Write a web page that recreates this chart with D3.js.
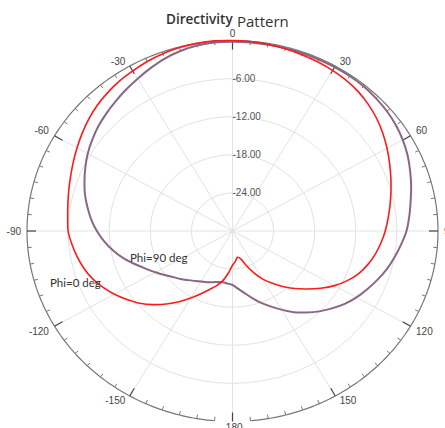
<!DOCTYPE html>
<html><head><meta charset="utf-8">
<script src="https://cdn.jsdelivr.net/npm/d3@7"></script>
<style>
html,body{margin:0;padding:0;background:#fff;}
svg{display:block;}
</style>
</head><body>
<svg id="chart" width="445" height="428"></svg>
<script>
// ---- data (angle in degrees, value in dB) ----
const angles = [-180,-175,-170,-165,-160,-155,-150,-145,-140,-135,-130,-125,-120,-115,-110,-105,-100,-95,
  -90,-85,-80,-75,-70,-65,-60,-55,-50,-45,-40,-35,-30,-25,-20,-15,-10,-5,
  0,5,10,15,20,25,30,35,40,45,50,55,60,65,70,75,80,85,
  90,95,100,105,110,115,120,125,130,135,140,145,150,155,160,165,170,175];
const phi0 = [-24.6,-23.4,-22.1,-21.1,-20.2,-19.1,-17.8,-16.4,-15.0,-13.6,-12.3,-11.2,-10.1,-9.1,-8.2,-7.5,-6.95,-6.45,
  -6.0,-5.85,-5.6,-5.25,-4.85,-4.35,-3.8,-3.2,-2.6,-2.05,-1.6,-1.2,-0.9,-0.55,-0.3,-0.1,0.0,0.05,
  0.0,-0.05,-0.15,-0.3,-0.45,-0.6,-0.8,-1.05,-1.4,-1.9,-2.5,-3.2,-3.95,-4.7,-5.4,-6.05,-6.65,-7.2,
  -7.7,-8.25,-8.85,-9.55,-10.4,-11.5,-12.8,-14.3,-15.8,-17.2,-18.6,-20.0,-21.3,-22.8,-24.3,-25.5,-25.8,-25.2];
const phi90 = [-21.5,-21.7,-21.8,-21.7,-21.4,-21.1,-20.8,-20.4,-19.9,-19.3,-18.7,-17.9,-17.0,-16.0,-14.8,-13.5,-12.3,-11.2,
  -10.2,-9.3,-8.5,-7.7,-7.0,-6.3,-5.6,-5.0,-4.4,-3.9,-3.4,-2.85,-2.3,-1.7,-1.1,-0.65,-0.35,-0.2,
  -0.2,-0.2,-0.2,-0.2,-0.2,-0.2,-0.2,-0.2,-0.25,-0.4,-0.6,-0.9,-1.3,-1.8,-2.4,-3.0,-3.6,-4.1,
  -4.6,-5.3,-6.0,-6.7,-7.5,-8.3,-9.1,-10.0,-11.05,-12.1,-13.25,-14.4,-15.7,-16.9,-18.0,-19.1,-20.1,-20.9];
const seriesNames = ["Phi=0 deg", "Phi=90 deg"];
const ringValues = [-24, -18, -12, -6];
const ringLabels = ["-24.00", "-18.00", "-12.00", "-6.00"];
const angleTicks = [0, 30, 60, 90, 120, 150, 180, -150, -120, -90, -60, -30];
const angleTickLabels = ["0", "30", "60", "90", "120", "150", "-180", "-150", "-120", "-90", "-60", "-30"];
const titleParts = ["Directivity", "Pattern"];

// ---- geometry ----
const cx = 232.5, cy = 231, rx = 205.5, ry = 190.5;
const svg = d3.select("#chart");
const rScale = d3.scaleLinear().domain([-30, 0]).range([0, 1]);
const aScale = d3.scaleLinear().domain([-180, 180]).range([-Math.PI, Math.PI]);
const xPix = d3.scaleLinear().domain([-1, 1]).range([cx - rx, cx + rx]);
const yPix = d3.scaleLinear().domain([-1, 1]).range([cy + ry, cy - ry]);
function P(angDeg, rn) {
  const a = aScale(angDeg);
  return [xPix(rn * Math.sin(a)), yPix(rn * Math.cos(a))];
}

// grid rings
svg.append("g").selectAll("ellipse").data(ringValues).join("ellipse")
  .attr("cx", cx).attr("cy", cy)
  .attr("rx", d => xPix(rScale(d)) - cx).attr("ry", d => cy - yPix(rScale(d)))
  .attr("fill", "none").attr("stroke", "#e2e2e2").attr("stroke-width", 1);

// spokes
const spokeAngles = [0, 30, 60, 90, 120, 150, 180, 210, 240, 270, 300, 330];
svg.append("g").selectAll("line").data(spokeAngles).join("line")
  .attr("x1", cx).attr("y1", cy)
  .attr("x2", d => P(d, 1)[0]).attr("y2", d => P(d, 1)[1])
  .attr("stroke", "#e2e2e2").attr("stroke-width", 1);

// ring labels
svg.append("g").selectAll("text").data(ringValues).join("text")
  .attr("x", cx).attr("y", d => yPix(rScale(d)))
  .attr("dominant-baseline", "central")
  .attr("font-family", "Liberation Sans, Arial, sans-serif").attr("font-size", 10)
  .attr("fill", "#555")
  .text((d, i) => ringLabels[i]);

// outer axis arc (-175 .. 175)
const arcAngles = d3.range(-175, 175.01, 1);
svg.append("path")
  .attr("d", d3.line().x(d => P(d, 1)[0]).y(d => P(d, 1)[1])(arcAngles))
  .attr("fill", "none").attr("stroke", "#777").attr("stroke-width", 1.2);

// ticks every 5 degrees
const tickAngles = d3.range(-175, 180.01, 5);
svg.append("g").selectAll("line").data(tickAngles).join("line")
  .each(function(d) {
    const p = P(d, 1);
    const a = aScale(d);
    const major = (Math.round(d) % 30 === 0);
    const len = major ? 9 : 4;
    d3.select(this)
      .attr("x1", p[0]).attr("y1", p[1])
      .attr("x2", p[0] - len * Math.sin(a)).attr("y2", p[1] + len * Math.cos(a))
      .attr("stroke", major ? "#444" : "#777").attr("stroke-width", major ? 1.2 : 1);
  });

// angle labels
svg.append("g").selectAll("text").data(angleTicks).join("text")
  .each(function(d, i) {
    const p = P(d, 1);
    const a = aScale(d);
    const s = Math.sin(a), c = Math.cos(a);
    let x = p[0], y = p[1], anchor = "middle";
    if (Math.abs(s) > 0.1) {
      anchor = s > 0 ? "start" : "end";
      x += (s > 0 ? 1 : -1) * (3 + 3 * Math.abs(s));
      if (Math.abs(c) > 0.1) y += (c > 0 ? -5 : 5);
    } else {
      y += c > 0 ? -7 : 6;
    }
    d3.select(this).attr("x", x).attr("y", y)
      .attr("text-anchor", anchor).attr("dominant-baseline", "central")
      .attr("font-family", "Liberation Sans, Arial, sans-serif").attr("font-size", 10)
      .attr("fill", "#444").text(angleTickLabels[i]);
  });

// series curves
const line = d3.line()
  .x(d => P(d[0], rScale(d[1]))[0])
  .y(d => P(d[0], rScale(d[1]))[1])
  .curve(d3.curveCatmullRomClosed.alpha(0.5));
const s90 = angles.map((a, i) => [a, phi90[i]]);
const s0 = angles.map((a, i) => [a, phi0[i]]);
svg.append("path").attr("d", line(s90))
  .attr("fill", "none").attr("stroke", "#8a6686").attr("stroke-width", 2);
svg.append("path").attr("d", line(s0))
  .attr("fill", "none").attr("stroke", "#ff1a1a").attr("stroke-width", 1.6);

// series labels
svg.append("text").attr("x", 50).attr("y", 282).attr("dominant-baseline", "central")
  .attr("font-family", "Lato, sans-serif").attr("font-size", 11.5).attr("fill", "#333")
  .text(seriesNames[0]);
svg.append("text").attr("x", 130).attr("y", 257).attr("dominant-baseline", "central")
  .attr("font-family", "Lato, sans-serif").attr("font-size", 11.5).attr("fill", "#333")
  .text(seriesNames[1]);

// title
svg.append("text").attr("x", 166).attr("y", 24.3)
  .attr("font-family", "Open Sans, sans-serif").attr("font-size", 13.5).attr("font-weight", 600)
  .attr("fill", "#333").text(titleParts[0]);
svg.append("text").attr("x", 237).attr("y", 26.7)
  .attr("font-family", "Open Sans, sans-serif").attr("font-size", 15)
  .attr("fill", "#333").text(titleParts[1]);
</script>
</body></html>
